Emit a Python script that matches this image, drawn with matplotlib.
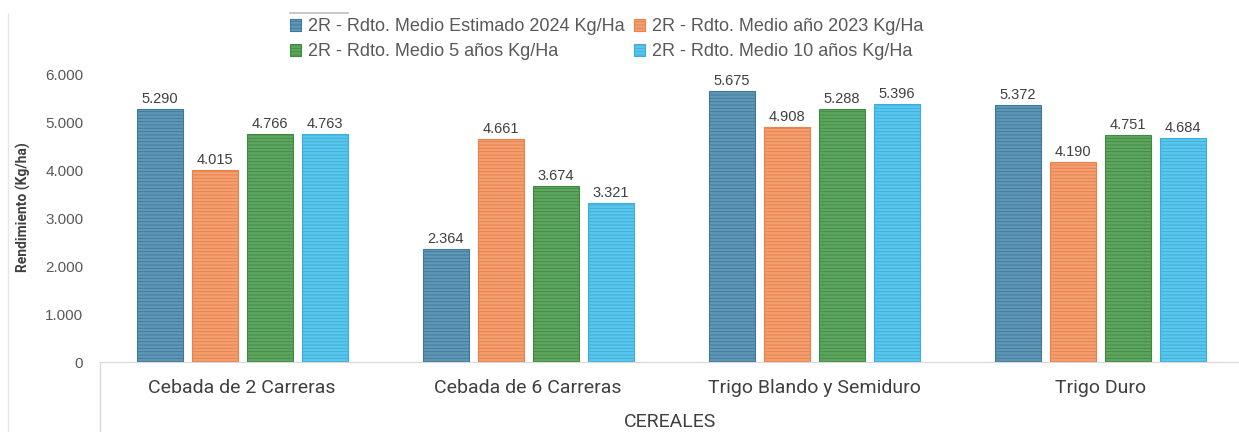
import numpy as np
import matplotlib.pyplot as plt
from matplotlib.lines import Line2D

# data
categorias = ['Cebada de 2 Carreras', 'Cebada de 6 Carreras', 'Trigo Blando y Semiduro', 'Trigo Duro']
series = ['2R - Rdto. Medio Estimado 2024 Kg/Ha', '2R - Rdto. Medio año 2023 Kg/Ha',
          '2R - Rdto. Medio 5 años Kg/Ha', '2R - Rdto. Medio 10 años Kg/Ha']
est_2024 = [5290, 2364, 5675, 5372]
med_2023 = [4015, 4661, 4908, 4190]
med_5 = [4766, 3674, 5288, 4751]
med_10 = [4763, 3321, 5396, 4684]
yticks = [0, 1000, 2000, 3000, 4000, 5000, 6000]

valores = [est_2024, med_2023, med_5, med_10]
colores = ['#5f97b6', '#f39e6e', '#5ea660', '#5ac6ec']
bordes = ['#3f7898', '#e8814c', '#3f8a42', '#3aaedb']

plt.rcParams['hatch.linewidth'] = 0.6

def miles(v):
    return '{:,}'.format(int(v)).replace(',', '.')

fig = plt.figure(figsize=(12.39, 4.32), dpi=100)
ax = fig.add_axes([100/1239, 1-362/432, 1-100/1239, (362-75)/432])

x = np.arange(len(categorias))
paso = 0.192
ancho = 0.161
barras = []
for i in range(4):
    pos = x + (i - 1.5) * paso
    b = ax.bar(pos, valores[i], ancho, color=colores[i], edgecolor=bordes[i],
               hatch='-----', linewidth=0.8, label=series[i])
    barras.append(b)
    for p, v in zip(pos, valores[i]):
        ax.text(p, v + 60, miles(v), ha='center', va='bottom', fontsize=10.5,
                color='#404040', family='Liberation Sans')

ax.set_xlim(-0.497, 3.485)
ax.set_ylim(0, 6000)
ax.set_yticks(yticks)
ax.set_yticklabels([miles(t) for t in yticks], fontsize=11, color='#595959', family='Liberation Sans')
ax.set_xticks(x)
ax.set_xticklabels(categorias, fontsize=14, color='#404040', family='Roboto')
ax.tick_params(axis='y', length=0, pad=12)
ax.tick_params(axis='x', length=0, pad=12)
for s in ['top', 'right', 'left']:
    ax.spines[s].set_visible(False)
ax.spines['bottom'].set_color('#d9d9d9')

fig.text(23/1239, 1-207/432, 'Rendimiento (Kg/ha)', rotation=90, ha='center', va='center',
         fontsize=10, fontweight='bold', color='#404040', family='Roboto')
fig.text(670/1239, 1-422/432, 'CEREALES', ha='center', va='center', fontsize=14,
         color='#404040', family='Roboto')

# lineas del marco
fig.add_artist(Line2D([100/1239, 100/1239], [0, 1-362/432], color='#d9d9d9', lw=1))
fig.add_artist(Line2D([8/1239, 8/1239], [0, 1-14/432], color='#e6e6e6', lw=1))
fig.add_artist(Line2D([290/1239, 348/1239], [1-13/432, 1-13/432], color='#bfbfbf', lw=1.2))

orden = [0, 2, 1, 3]
leg = fig.legend([barras[k] for k in orden], [series[k] for k in orden],
                 loc='upper left', bbox_to_anchor=(274/1239, 1-2/432), ncol=2, frameon=False,
                 handlelength=0.6, handleheight=0.6, handletextpad=0.4,
                 columnspacing=0.5, labelspacing=0.45,
                 prop={'family': 'Liberation Sans', 'size': 13})
for t in leg.get_texts():
    t.set_color('#595959')

fig.savefig('out.png', dpi=100)
